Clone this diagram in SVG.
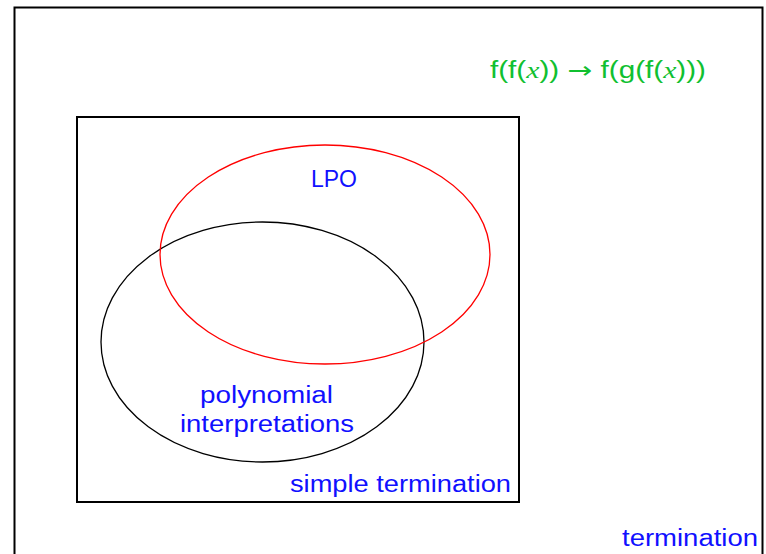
<svg xmlns="http://www.w3.org/2000/svg" width="766" height="554" viewBox="0 0 766 554">
<style>
.lbl{font-family:"Liberation Sans",Arial,sans-serif;font-size:23px;fill:#1010ff}
.frm{font-family:"Liberation Sans",Arial,sans-serif;font-size:23px;fill:#10c030}
.box{fill:none;stroke:#000;stroke-width:2}
.it{font-family:"Liberation Serif",serif;font-style:italic}
</style>
<rect width="766" height="554" fill="#fff"/>
<g id="termination">
<rect class="box" x="14.5" y="7.5" width="748" height="560"/>
<text class="lbl" x="622" y="546" textLength="136" lengthAdjust="spacingAndGlyphs">termination</text>
</g>
<g id="formula">
<text class="frm" x="490" y="78" textLength="216" lengthAdjust="spacingAndGlyphs">f(f(<tspan class="it">x</tspan>)) <tspan font-family="DejaVu Sans,sans-serif">→</tspan> f(g(f(<tspan class="it">x</tspan>)))</text>
</g>
<g id="simple-termination">
<rect class="box" x="77" y="117" width="442" height="385"/>
<text class="lbl" x="290" y="492" textLength="221" lengthAdjust="spacingAndGlyphs">simple termination</text>
</g>
<g id="polynomial">
<ellipse cx="262.5" cy="342" rx="161.5" ry="120" fill="none" stroke="#000" stroke-width="1.3"/>
<text class="lbl" x="200" y="403" textLength="133" lengthAdjust="spacingAndGlyphs">polynomial</text>
<text class="lbl" x="180" y="432" textLength="174" lengthAdjust="spacingAndGlyphs">interpretations</text>
</g>
<g id="lpo">
<ellipse cx="325" cy="254.5" rx="165" ry="109.5" fill="none" stroke="#f00" stroke-width="1.3"/>
<text class="lbl" x="311" y="187" textLength="46" lengthAdjust="spacingAndGlyphs">LPO</text>
</g>
</svg>
